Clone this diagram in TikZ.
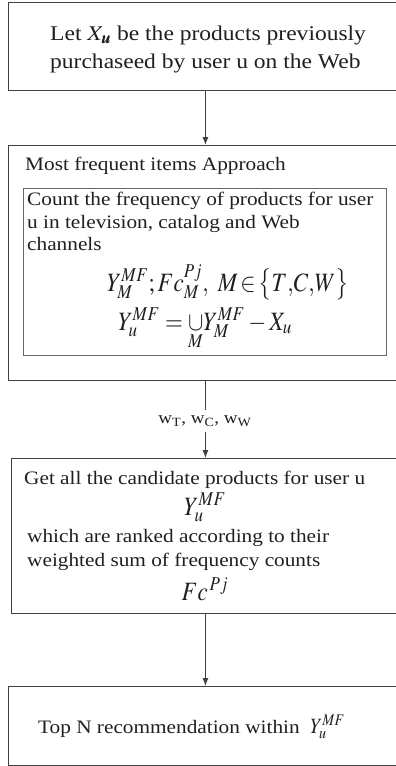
\documentclass[tikz,border=0pt]{standalone}
\usepackage{mathptmx}
\usepackage{amsmath}
\usepackage{bm}
\usepackage[no-math]{fontspec}
\setmainfont[FakeStretch=1.12]{Liberation Serif}
\usepackage{graphicx}
\usetikzlibrary{arrows.meta}
\newcommand{\sxm}[1]{\scalebox{1.12}[1]{$#1$}}
\newcommand{\syx}[1]{\scalebox{1}[1.15]{$#1$}}
\begin{document}
\begin{tikzpicture}[x=1pt,y=-1pt,
  box/.style={draw=black!75, line width=0.9pt, inner sep=0pt, anchor=north west},
  innerbox/.style={draw=black!60, line width=0.9pt, inner sep=0pt, anchor=north west},
  txt/.style={anchor=base west, inner sep=0pt, text=black!88, font=\fontsize{19}{22}\selectfont},
  bigtxt/.style={txt, font=\fontsize{21}{24}\selectfont},
  mth/.style={anchor=base, inner sep=0pt, text=black!88, font=\fontsize{23}{25}\selectfont},
  arr/.style={draw=black!75, line width=0.9pt, -{Latex[length=8pt,width=6pt]}},
  lbl/.style={fill=white, inner xsep=2pt, inner ysep=6pt, text=black!88, font=\fontsize{17}{19}\selectfont}]
\useasboundingbox (0,0) rectangle (396,766);
\clip (0,0) rectangle (396,766);
% boxes
\node[box, minimum width=394pt, minimum height=88pt] (b1) at (8,2) {};
\node[box, minimum width=394pt, minimum height=235pt] (b2) at (8,145) {};
\node[innerbox, minimum width=363pt, minimum height=167pt] (ib) at (23,188) {};
\node[box, minimum width=388pt, minimum height=155pt] (b3) at (11,458) {};
\node[box, minimum width=394pt, minimum height=79pt] (b4) at (8,686) {};
% connectors
\draw[arr] (b1.south) -- (b2.north);
\draw[arr] (b2.south) -- (b3.north);
\node[lbl] (w) at (205,421) {w\textsubscript{T}, w\textsubscript{C}, w\textsubscript{W}};
\draw[arr] (b3.south) -- (b4.north);
% texts
\node[bigtxt] (t1a) at (50,40) {Let \sxm{X_{\bm{u}}} be the products previously};
\node[bigtxt] (t1b) at (50,68) {purchaseed by user u on the Web};
\node[txt] (t2) at (25,170) {Most frequent items Approach};
\node[txt] (t3a) at (27,205) {Count the frequency of products for user};
\node[txt] (t3b) at (27,228) {u in television, catalog and Web};
\node[txt] (t3c) at (27,250) {channels};
\node[mth] (m1) at (228,291) {\syx{Y^{MF}_{M}{;}\,Fc^{Pj}_{M},\ M\!\in\!\bigl\{T{,}C{,}W\bigr\}}};
\node[mth] (m2) at (205,330) {\syx{Y^{MF}_{u}=\mathop{\cup}\limits_{M}\!Y^{MF}_{M}-X_{u}}};
\node[txt] (t4a) at (24,484) {Get all the candidate products for user u};
\node[mth] (m3) at (205,515) {\syx{Y^{MF}_{u}}};
\node[txt] (t4b) at (27,542) {which are ranked according to their};
\node[txt] (t4c) at (27,566) {weighted sum of frequency counts};
\node[mth] (m4) at (205,600) {\syx{Fc^{\,Pj}}};
\node[txt] (t5) at (38,733) {Top N recommendation within \ \syx{Y^{MF}_{u}}};
\end{tikzpicture}
\end{document}
